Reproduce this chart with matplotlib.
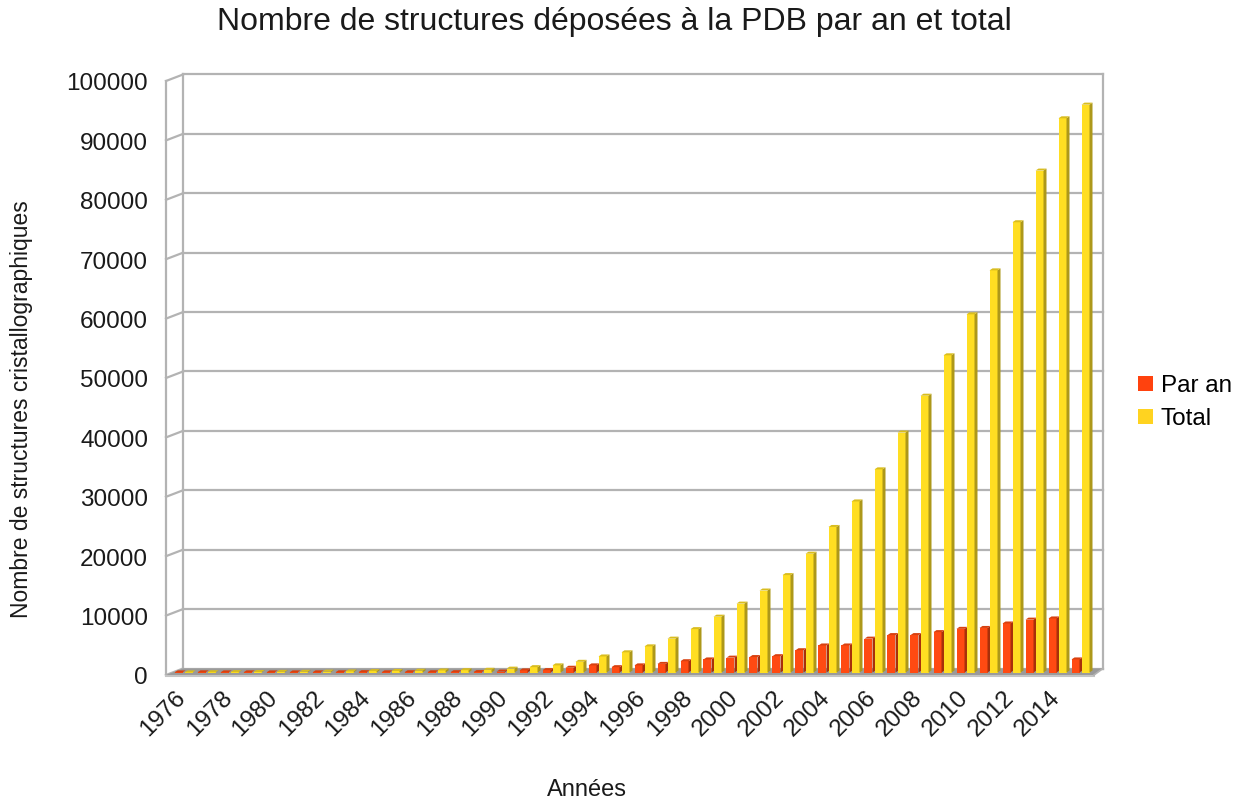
import matplotlib
matplotlib.use('Agg')
import matplotlib.pyplot as plt
from matplotlib.patches import Polygon, Patch
from matplotlib.transforms import IdentityTransform, ScaledTranslation
import numpy as np

# ---------------- data ----------------
years = list(range(1976, 2016))
par_an = [13, 30, 20, 25, 15, 15, 25, 30, 55, 30,
          40, 40, 50, 70, 150, 350, 400, 800, 1200, 900,
          1200, 1450, 1900, 2200, 2500, 2600, 2750, 3750, 4550, 4550,
          5700, 6300, 6300, 6800, 7350, 7500, 8250, 8900, 9100, 2200]
total = [13, 43, 63, 88, 103, 118, 143, 173, 228, 258,
         298, 338, 388, 458, 650, 900, 1200, 1800, 2700, 3400,
         4400, 5700, 7300, 9400, 11600, 13800, 16400, 20000, 24500, 28800,
         34200, 40400, 46600, 53400, 60300, 67700, 75800, 84500, 93300, 95600]
yticks = list(range(0, 100001, 10000))
xtick_years = years[::2]
series_names = ["Par an", "Total"]
title = "Nombre de structures déposées à la PDB par an et total"
xlabel = "Années"
ylabel = "Nombre de structures cristallographiques"

plt.rcParams['font.family'] = ['Liberation Sans', 'DejaVu Sans']

W, H = 1245, 800
fig = plt.figure(figsize=(W / 100, H / 100), dpi=100)

# back wall box (pixels, top-origin)
BL, BR, BT, BB = 183, 1103, 74.5, 668.5
ax = fig.add_axes([BL / W, 1 - BB / H, (BR - BL) / W, (BB - BT) / H])
n = len(years)
ax.set_xlim(-0.5, n - 0.5)
ax.set_ylim(0, 100000)
for s in ax.spines.values():
    s.set_visible(False)
ax.set_facecolor('white')

GRID = '#b3b3b3'
GLW = 1.6
DEPTH_L = np.array([-17.0, -6.5])   # back -> front offset at left
DEPTH_R = np.array([-9.0, -6.5])    # back -> front offset at right
BAR_OFF = np.array([-11.0, -4.0])
CAP = np.array([3.0, 2.0])

def disp(x, y):
    return ax.transData.transform((x, y))

def px_to_in(v):
    return v / 100.0

# back wall grid and frame
for v in yticks:
    ax.axhline(v, color=GRID, lw=GLW, clip_on=False, zorder=1)
ax.axvline(-0.5, color=GRID, lw=GLW, clip_on=False, zorder=1)
ax.axvline(n - 0.5, color=GRID, lw=GLW, clip_on=False, zorder=1)

ident = IdentityTransform()
# left wall
for v in yticks:
    p = disp(-0.5, v)
    q = p + DEPTH_L
    ax.add_line(plt.Line2D([p[0], q[0]], [p[1], q[1]], color=GRID, lw=GLW,
                           transform=ident, clip_on=False, zorder=1))
p0 = disp(-0.5, 0) + DEPTH_L
p1 = disp(-0.5, 100000) + DEPTH_L
ax.add_line(plt.Line2D([p0[0], p1[0]], [p0[1], p1[1]], color=GRID, lw=GLW,
                       transform=ident, clip_on=False, zorder=1))

# floor
bl = disp(-0.5, 0)
br = disp(n - 0.5, 0)
floor = Polygon([bl, br, br + DEPTH_R, bl + DEPTH_L], closed=True,
                facecolor='#9a9a9a', edgecolor='none', transform=ident,
                clip_on=False, zorder=2)
ax.add_patch(floor)
fl = bl + DEPTH_L
fr = br + DEPTH_R
ax.add_line(plt.Line2D([fl[0], fr[0]], [fl[1] - 0.5, fr[1] - 0.5], color='#c4c4c4', lw=1.5,
                       transform=ident, clip_on=False, zorder=2))
ax.add_line(plt.Line2D([br[0], fr[0]], [br[1], fr[1]], color=GRID, lw=1.2,
                       transform=ident, clip_on=False, zorder=2))

# bars
bar_tr = ax.transData + ScaledTranslation(px_to_in(BAR_OFF[0]), px_to_in(BAR_OFF[1]),
                                          fig.dpi_scale_trans)
cat_px = (BR - BL) / n
half_gap = 1.0 / cat_px
bw = 8.0 / cat_px
x = np.arange(n)

styles = [
    dict(front='#ff4a12', side='#a8300a', top='#d8400f'),
    dict(front='#ffde22', side='#ad981a', top='#d9bd1e'),
]
vals = [par_an, total]
lefts = [x - half_gap - bw, x + half_gap]

for k in range(2):
    st = styles[k]
    ax.bar(lefts[k], vals[k], width=bw, align='edge', color=st['front'],
           edgecolor='none', transform=bar_tr, clip_on=False, zorder=3 + k,
           label=series_names[k])
    for i in range(n):
        a = disp(lefts[k][i], 0) + BAR_OFF
        b = disp(lefts[k][i] + bw, vals[k][i]) + BAR_OFF
        x0, y0 = a
        x1, y1 = b
        side = Polygon([(x1, y0), (x1 + CAP[0], y0 + CAP[1]),
                        (x1 + CAP[0], y1 + CAP[1]), (x1, y1)], closed=True,
                       facecolor=st['side'], edgecolor='none', transform=ident,
                       clip_on=False, zorder=3 + k)
        top = Polygon([(x0, y1), (x1, y1), (x1 + CAP[0], y1 + CAP[1]),
                       (x0 + CAP[0], y1 + CAP[1])], closed=True,
                      facecolor=st['top'], edgecolor='none', transform=ident,
                      clip_on=False, zorder=3 + k)
        ax.add_patch(side)
        ax.add_patch(top)

# ticks
ax.set_yticks(yticks)
ax.set_yticklabels([str(v) for v in yticks], fontsize=17.5, color='#1a1a1a')
ax.tick_params(axis='y', length=0, pad=35 * 0.72)
for lab in ax.get_yticklabels():
    lab.set_transform(lab.get_transform() +
                      ScaledTranslation(0, px_to_in(DEPTH_L[1] - 1), fig.dpi_scale_trans))

xt_pos = [years.index(yy) for yy in xtick_years]
ax.set_xticks(xt_pos)
ax.set_xticklabels([str(yy) for yy in xtick_years], fontsize=17.5, color='#1a1a1a',
                   rotation=45, ha='right', va='center', rotation_mode='anchor')
ax.tick_params(axis='x', length=0, pad=26 * 0.72)
for lab in ax.get_xticklabels():
    lab.set_transform(lab.get_transform() +
                      ScaledTranslation(px_to_in(-12), 0, fig.dpi_scale_trans))

# texts
fig.text(614 / W, 1 - 22 / H, title, ha='center', va='center', fontsize=23, color='#1a1a1a')
fig.text(22 / W, 1 - 409 / H, ylabel, ha='center', va='center', rotation=90,
         fontsize=16.5, color='#1a1a1a')
fig.text(587 / W, 1 - 790 / H, xlabel, ha='center', va='center', fontsize=17, color='#1a1a1a')

handles = [Patch(facecolor='#ff420e', edgecolor='none'),
           Patch(facecolor='#ffd320', edgecolor='none')]
fig.legend(handles, series_names, loc='center left',
           bbox_to_anchor=(1116 / W, 1 - 402.5 / H), frameon=False, fontsize=17.5,
           handlelength=0.62, handleheight=0.62, handletextpad=0.33, labelspacing=0.45)

fig.savefig('out.png', dpi=100, facecolor='white')
